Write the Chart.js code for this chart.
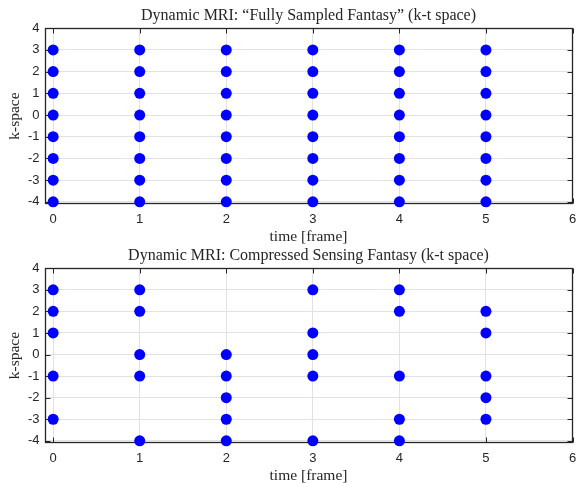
<!doctype html>
<html>
<head>
<script src="https://cdn.jsdelivr.net/npm/chart.js@4.4.0/dist/chart.umd.min.js"></script>
<style>
	body { margin: 0; background: #fff; }
	.holder { position: absolute; left: 0; }
	#holder-full { top: 0; }
	#holder-cs { top: 244px; }
</style>
</head>
<body>
<div class="holder" id="holder-full"><canvas id="chart-full" width="578" height="244" style="width:578px;height:244px"></canvas></div>
<div class="holder" id="holder-cs"><canvas id="chart-cs" width="578" height="239" style="width:578px;height:239px"></canvas></div>
<script>
	// frames on the time axis
	var frames = [0, 1, 2, 3, 4, 5];
	var xTicks = [0, 1, 2, 3, 4, 5, 6];
	var yTicks = [-4, -3, -2, -1, 0, 1, 2, 3, 4];

	// sampled k-space lines per frame, fully sampled
	var fullK = [
		[3, 2, 1, 0, -1, -2, -3, -4],
		[3, 2, 1, 0, -1, -2, -3, -4],
		[3, 2, 1, 0, -1, -2, -3, -4],
		[3, 2, 1, 0, -1, -2, -3, -4],
		[3, 2, 1, 0, -1, -2, -3, -4],
		[3, 2, 1, 0, -1, -2, -3, -4]
	];

	// sampled k-space lines per frame, compressed sensing
	var csK = [
		[3, 2, 1, -1, -3],
		[3, 2, 0, -1, -4],
		[0, -1, -2, -3, -4],
		[3, 1, 0, -1, -4],
		[3, 2, -1, -3, -4],
		[2, 1, -1, -2, -3]
	];

	var axisColor = '#262626';
	var gridColor = '#e2e2e2';
	var serif = 'Liberation Serif';
	var sans = 'Liberation Sans';

	function buildPoints(kLists) {
		var pts = [];
		frames.forEach(function(t, i) {
			kLists[i].forEach(function(k) {
				pts.push({ x: t, y: k });
			});
		});
		return pts;
	}

	// matlab style box with inward ticks
	var boxPlugin = {
		id: 'box',
		beforeDatasetsDraw: function(chart) {
			var a = chart.chartArea, ctx = chart.ctx;
			var xs = chart.scales.x, ys = chart.scales.y;
			var l = Math.round(a.left) + 0.5, r = Math.round(a.right) - 0.5;
			var t = Math.round(a.top) + 0.5, b = Math.round(a.bottom) - 0.5;
			var len = 5;
			ctx.save();
			ctx.strokeStyle = axisColor;
			ctx.lineWidth = 1;
			ctx.beginPath();
			xTicks.forEach(function(v) {
				var px = Math.round(xs.getPixelForValue(v)) + 0.5;
				ctx.moveTo(px, b); ctx.lineTo(px, b - len);
				ctx.moveTo(px, t); ctx.lineTo(px, t + len);
			});
			yTicks.forEach(function(v) {
				var py = Math.round(ys.getPixelForValue(v)) + 0.5;
				ctx.moveTo(l, py); ctx.lineTo(l + len, py);
				ctx.moveTo(r, py); ctx.lineTo(r - len, py);
			});
			ctx.stroke();
			ctx.lineWidth = 1.3;
			ctx.strokeRect(l, t, r - l, b - t);
			ctx.restore();
		}
	};

	function makeConfig(titleText, kLists, titlePad, xHeight) {
		return {
			type: 'scatter',
			data: {
				datasets: [{
					data: buildPoints(kLists),
					backgroundColor: '#0000ff',
					borderWidth: 0,
					pointRadius: 5.5,
					pointHoverRadius: 5.5,
					clip: false
				}]
			},
			options: {
				responsive: false,
				animation: false,
				events: [],
				layout: { padding: { left: 0, right: 3, top: 0, bottom: 0 } },
				plugins: {
					legend: { display: false },
					tooltip: { enabled: false },
					title: {
						display: true,
						fullSize: false,
						text: titleText,
						color: axisColor,
						font: { family: serif, size: 16, weight: 'normal' },
						padding: titlePad
					}
				},
				scales: {
					x: {
						type: 'linear',
						min: -0.1,
						max: 6,
						afterBuildTicks: function(s) {
							s.ticks = xTicks.map(function(v) { return { value: v }; });
						},
						afterFit: function(s) {
							s.height = xHeight;
							s.paddingLeft = 0;
							s.paddingRight = 0;
						},
						grid: { color: gridColor, drawTicks: false },
						border: { display: false },
						ticks: {
							padding: 8,
							color: axisColor,
							maxRotation: 0,
							font: { family: sans, size: 13 }
						},
						title: {
							display: true,
							text: 'time [frame]',
							color: axisColor,
							font: { family: serif, size: 15.5 },
							padding: { top: 0, bottom: -2 }
						}
					},
					y: {
						min: -4.1,
						max: 4,
						afterBuildTicks: function(s) {
							s.ticks = yTicks.map(function(v) { return { value: v }; });
						},
						afterFit: function(s) {
							s.width = 44.5;
						},
						grid: { color: gridColor, drawTicks: false },
						border: { display: false },
						ticks: {
							padding: 5,
							color: axisColor,
							font: { family: sans, size: 13 }
						},
						title: {
							display: true,
							text: 'k-space',
							color: axisColor,
							font: { family: serif, size: 15.5 },
							padding: { top: 6, bottom: 0 }
						}
					}
				}
			},
			plugins: [boxPlugin]
		};
	}

	window.onload = function() {
		new Chart(document.getElementById('chart-full').getContext('2d'),
			makeConfig('Dynamic MRI: \u201cFully Sampled Fantasy\u201d (k-t space)', fullK, { top: 6, bottom: 3 }, 40));
		new Chart(document.getElementById('chart-cs').getContext('2d'),
			makeConfig('Dynamic MRI: Compressed Sensing Fantasy (k-t space)', csK, { top: 2, bottom: 3 }, 40));
	};
</script>
</body>
</html>
